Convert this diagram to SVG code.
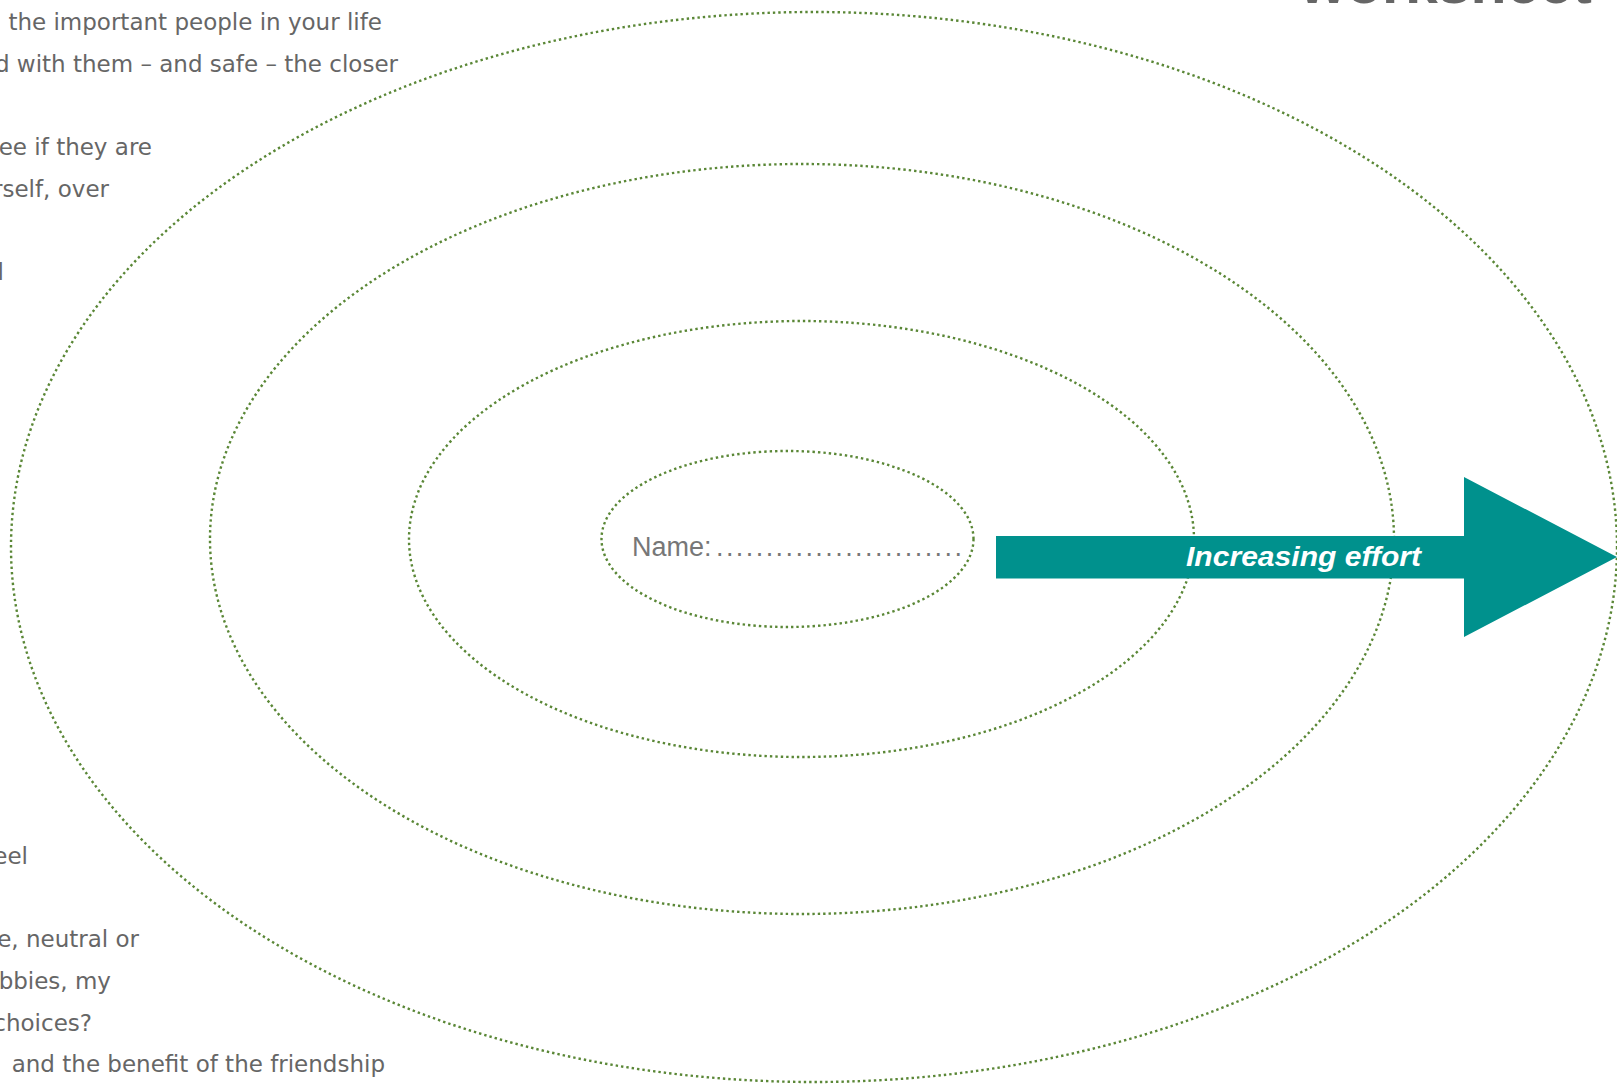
<svg xmlns="http://www.w3.org/2000/svg" width="1617" height="1084" viewBox="0 0 1617 1084">
  <style>
    .ring { fill: none; stroke: #5a8736; stroke-width: 2.4; stroke-dasharray: 2.4 3; }
    .body { font-family: "DejaVu Sans", Verdana, sans-serif; font-size: 23px; fill: #666666; text-anchor: end; }
    .title { font-family: "Liberation Sans", Arial, sans-serif; font-size: 58px; font-weight: bold; fill: #666666; }
    .name { font-family: "Liberation Sans", Arial, sans-serif; font-size: 27px; fill: #777777; }
    .effort { font-family: "Liberation Sans", Arial, sans-serif; font-size: 28px; font-weight: bold; font-style: italic; fill: #ffffff; }
  </style>
  <rect width="1617" height="1084" fill="#ffffff"/>

  <!-- heading, mostly above the page edge -->
  <text class="title" x="1300" y="3" textLength="292" lengthAdjust="spacingAndGlyphs">worksheet</text>

  <!-- instructions column, clipped at the left edge -->
  <g id="instructions">
    <text class="body" x="382" y="30"> the important people in your life</text>
    <text class="body" x="398" y="72">d with them – and safe – the closer</text>
    <text class="body" x="152" y="155">ee if they are</text>
    <text class="body" x="109" y="197">rself, over</text>
    <text class="body" x="4" y="280">l</text>
    <text class="body" x="28" y="864">eel</text>
    <text class="body" x="139" y="947">e, neutral or</text>
    <text class="body" x="111" y="989">bbies, my</text>
    <text class="body" x="92" y="1031">choices?</text>
    <text class="body" x="385" y="1072"> and the benefit of the friendship</text>
  </g>

  <!-- concentric circles of closeness -->
  <g id="ring-outer"><ellipse class="ring" cx="814" cy="547" rx="803" ry="535"/></g>
  <g id="ring-third"><ellipse class="ring" cx="802" cy="539" rx="592" ry="375"/></g>
  <g id="ring-second"><ellipse class="ring" cx="801.5" cy="539" rx="392.5" ry="218"/></g>
  <g id="ring-inner">
    <ellipse class="ring" cx="787.5" cy="539" rx="186" ry="88"/>
    <text class="name" x="632" y="556">Name:</text>
    <text class="name" x="716" y="556" textLength="246" lengthAdjust="spacing">.........................</text>
  </g>

  <!-- effort arrow -->
  <g id="connectors">
    <g id="effort-arrow">
      <polygon fill="#00918d" points="996,536 1464,536 1464,477 1617,557 1464,637 1464,578.5 996,578.5"/>
      <text class="effort" x="1186" y="566" textLength="235" lengthAdjust="spacingAndGlyphs">Increasing effort</text>
    </g>
  </g>
</svg>
